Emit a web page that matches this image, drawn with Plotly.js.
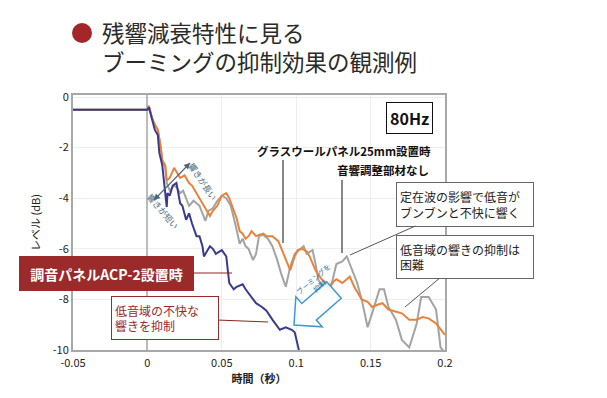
<!DOCTYPE html>
<html>
<head>
<meta charset="utf-8">
<script src="https://cdn.plot.ly/plotly-3.0.1.min.js"></script>
<style>html,body{margin:0;padding:0;background:#fff;}#chart{width:607px;height:398px;}</style>
</head>
<body>
<div id="chart"></div>
<script>
// ---- data (time in seconds, level in dB) ----
const timeGlass = [-0.05, 0, 0.001, 0.003, 0.005, 0.007, 0.009, 0.010, 0.012, 0.013, 0.015, 0.018, 0.020, 0.022, 0.025, 0.028, 0.030, 0.033, 0.035, 0.038, 0.042, 0.044, 0.047, 0.050, 0.053, 0.055, 0.057, 0.060, 0.062, 0.064, 0.066, 0.068, 0.070, 0.073, 0.075, 0.078, 0.080, 0.084, 0.088, 0.090, 0.093, 0.096, 0.099, 0.101, 0.104, 0.107, 0.109, 0.113, 0.117, 0.120, 0.122, 0.125, 0.127, 0.131, 0.134, 0.136, 0.139, 0.144, 0.148, 0.151, 0.155, 0.158, 0.162, 0.167, 0.171, 0.176, 0.181, 0.185, 0.189, 0.194, 0.198, 0.2];
const levelGlass = [-0.5, -0.5, -0.35, -0.8, -1.1, -1.3, -2.0, -2.5, -2.7, -3.3, -3.2, -2.8, -3.0, -3.2, -3.1, -3.4, -3.5, -3.8, -4.0, -4.3, -4.7, -4.5, -4.3, -3.9, -3.8, -4.0, -4.3, -4.8, -5.3, -5.4, -5.6, -5.5, -5.3, -5.5, -5.45, -5.4, -5.5, -5.5, -5.7, -6.0, -6.45, -6.85, -6.3, -6.05, -6.0, -6.1, -6.3, -6.85, -7.2, -7.35, -7.6, -7.3, -7.2, -7.35, -7.2, -7.1, -7.5, -8.0, -8.1, -8.3, -8.2, -8.15, -8.4, -8.5, -8.55, -8.8, -8.8, -8.7, -8.75, -8.95, -9.25, -9.4];

const timeNone = [-0.05, 0, 0.001, 0.003, 0.005, 0.007, 0.009, 0.010, 0.012, 0.013, 0.015, 0.018, 0.020, 0.022, 0.024, 0.026, 0.028, 0.031, 0.033, 0.035, 0.037, 0.039, 0.041, 0.044, 0.047, 0.050, 0.053, 0.056, 0.059, 0.062, 0.064, 0.066, 0.068, 0.071, 0.073, 0.075, 0.078, 0.081, 0.084, 0.087, 0.090, 0.093, 0.096, 0.099, 0.102, 0.105, 0.107, 0.111, 0.113, 0.115, 0.120, 0.124, 0.127, 0.131, 0.134, 0.136, 0.138, 0.141, 0.144, 0.148, 0.151, 0.156, 0.159, 0.162, 0.167, 0.171, 0.176, 0.181, 0.184, 0.189, 0.194, 0.197, 0.2];
const levelNone = [-0.5, -0.5, -0.35, -0.8, -1.1, -1.3, -2.0, -2.5, -2.8, -3.4, -3.7, -3.5, -3.6, -3.8, -3.7, -4.0, -4.3, -4.1, -4.2, -4.3, -4.6, -4.9, -4.5, -4.4, -4.1, -3.9, -4.0, -4.3, -5.0, -5.8, -5.6, -5.9, -6.0, -6.45, -6.2, -5.5, -5.45, -5.6, -5.9, -6.4, -7.0, -7.5, -6.7, -6.2, -6.05, -5.9, -6.2, -6.05, -6.6, -7.25, -7.6, -7.35, -6.6, -6.5, -6.3, -6.6, -6.95, -7.35, -8.0, -9.1, -8.55, -7.6, -7.6, -8.3, -8.8, -9.6, -9.9, -8.95, -7.9, -7.9, -8.4, -9.9, -10.1];

const timeACP = [-0.05, 0, 0.001, 0.003, 0.005, 0.007, 0.008, 0.010, 0.011, 0.013, 0.0135, 0.015, 0.017, 0.0195, 0.022, 0.0235, 0.026, 0.028, 0.030, 0.033, 0.035, 0.037, 0.038, 0.042, 0.044, 0.046, 0.050, 0.053, 0.055, 0.058, 0.060, 0.064, 0.066, 0.068, 0.071, 0.073, 0.077, 0.080, 0.084, 0.089, 0.093, 0.097, 0.099, 0.101, 0.103];
const levelACP = [-0.5, -0.5, -0.4, -0.9, -1.3, -1.5, -2.2, -2.7, -3.3, -4.35, -3.8, -3.9, -3.5, -3.4, -4.2, -4.3, -4.85, -4.6, -5.0, -5.5, -5.5, -5.9, -6.3, -5.9, -6.0, -6.2, -6.05, -6.3, -7.35, -7.6, -7.5, -7.4, -7.6, -7.75, -8.0, -8.15, -8.3, -8.45, -8.8, -9.2, -9.1, -9.2, -9.3, -9.9, -10.3];

const xTickVals = [-0.05, 0, 0.05, 0.1, 0.15, 0.2];
const xTickText = ['-0.05', '0', '0.05', '0.1', '0.15', '0.2'];
const yTickVals = [0, -2, -4, -6, -8, -10];
const yTickText = ['0', '-2', '-4', '-6', '-8', '-10'];

const titleLine1 = '残響減衰特性に見る';
const titleLine2 = 'ブーミングの抑制効果の観測例';
const xTitle = '時間（秒）';
const yTitle = 'レベル (dB)';
const freqLabel = '80Hz';
const labelGlass = 'グラスウールパネル25mm設置時';
const labelNone = '音響調整部材なし';
const labelACP = '調音パネルACP-2設置時';
const noteACP = '低音域の不快な<br>響きを抑制';
const noteStanding = '定在波の影響で低音が<br>ブンブンと不快に響く';
const noteHard = '低音域の響きの抑制は<br>困難';
const noteBooming = 'ブーミングを<br>抑制';
const noteLong = '響きが長い';
const noteShort = '響きが短い';

// ---- layout helpers (pixel -> paper) ----
const L = 73, R = 445, T = 95, B = 350;
const PX = px => (px - L) / (R - L);
const PY = py => (B - py) / (B - T);
const FONT = '"Noto Sans CJK JP", "Noto Sans", sans-serif';
const pathFrom = pts => 'M' + pts.map(p => PX(p[0]).toFixed(4) + ',' + PY(p[1]).toFixed(4)).join(' L') + ' Z';

const traces = [
  {x: timeNone, y: levelNone, type: 'scatter', mode: 'lines', line: {color: '#a3a3a3', width: 2}, hoverinfo: 'skip'},
  {x: timeGlass, y: levelGlass, type: 'scatter', mode: 'lines', line: {color: '#e9833c', width: 2}, hoverinfo: 'skip'},
  {x: timeACP, y: levelACP, type: 'scatter', mode: 'lines', line: {color: '#3c3a8c', width: 2}, hoverinfo: 'skip'}
];

// blue outlined arrow (booming suppression) in pixel space
function blockArrow() {
  const tip = [294, 325], tail = [334, 290];
  const dx = tip[0] - tail[0], dy = tip[1] - tail[1];
  const len = Math.hypot(dx, dy);
  const d = [dx / len, dy / len], n = [-d[1], d[0]];
  const hl = 20, hw = 20, bw = 11;
  const b = [tip[0] - hl * d[0], tip[1] - hl * d[1]];
  return pathFrom([
    tip,
    [b[0] + hw * n[0], b[1] + hw * n[1]],
    [b[0] + bw * n[0], b[1] + bw * n[1]],
    [tail[0] + bw * n[0], tail[1] + bw * n[1]],
    [tail[0] - bw * n[0], tail[1] - bw * n[1]],
    [b[0] - bw * n[0], b[1] - bw * n[1]],
    [b[0] - hw * n[0], b[1] - hw * n[1]]
  ]);
}
// small arrow head at point p, pointing away from q
function headAt(p, q) {
  const dx = p[0] - q[0], dy = p[1] - q[1];
  const len = Math.hypot(dx, dy);
  const d = [dx / len, dy / len], n = [-d[1], d[0]];
  const hl = 6, hw = 3.2;
  const b = [p[0] - hl * d[0], p[1] - hl * d[1]];
  return pathFrom([p, [b[0] + hw * n[0], b[1] + hw * n[1]], [b[0] - hw * n[0], b[1] - hw * n[1]]]);
}
const dblA = [190, 163], dblB = [154, 200];

const shapes = [
  {type: 'circle', xref: 'paper', yref: 'paper', x0: PX(72), x1: PX(92), y0: PY(43), y1: PY(23), fillcolor: '#a3262a', line: {width: 0}},
  {type: 'line', xref: 'paper', yref: 'paper', x0: PX(283), x1: PX(283), y0: PY(160), y1: PY(243), line: {color: '#111', width: 1}},
  {type: 'line', xref: 'paper', yref: 'paper', x0: PX(342), x1: PX(342), y0: PY(180), y1: PY(253), line: {color: '#111', width: 1}},
  {type: 'path', xref: 'paper', yref: 'paper', path: blockArrow(), fillcolor: 'rgba(255,255,255,0.9)', line: {color: '#3d9ad6', width: 1.5}},
  {type: 'line', xref: 'paper', yref: 'paper', x0: PX(dblA[0]), y0: PY(dblA[1]), x1: PX(dblB[0]), y1: PY(dblB[1]), line: {color: '#4a6878', width: 1.1}},
  {type: 'path', xref: 'paper', yref: 'paper', path: headAt(dblA, dblB), fillcolor: '#4a6878', line: {width: 0}},
  {type: 'path', xref: 'paper', yref: 'paper', path: headAt(dblB, dblA), fillcolor: '#4a6878', line: {width: 0}}
];

const annotations = [
  {xref: 'paper', yref: 'paper', x: PX(100), y: PY(46), xanchor: 'left', yanchor: 'middle', showarrow: false, align: 'left', text: titleLine1 + '<br>' + titleLine2, font: {family: FONT, size: 22.5, color: '#2a2a2a'}},
  {xref: 'paper', yref: 'paper', x: PX(409), y: PY(118), xanchor: 'center', yanchor: 'middle', showarrow: false, text: '<b>' + freqLabel + '</b>', font: {family: FONT, size: 16, color: '#111'}, bordercolor: '#111', borderwidth: 1, borderpad: 3, bgcolor: '#fff'},
  {xref: 'paper', yref: 'paper', x: PX(344), y: PY(151), xanchor: 'center', yanchor: 'middle', showarrow: false, text: '<b>' + labelGlass + '</b>', font: {family: FONT, size: 11.5, color: '#111'}},
  {xref: 'paper', yref: 'paper', x: PX(383), y: PY(170), xanchor: 'center', yanchor: 'middle', showarrow: false, text: '<b>' + labelNone + '</b>', font: {family: FONT, size: 11.5, color: '#111'}},
  // callout: standing waves
  {xref: 'paper', yref: 'paper', x: PX(350), y: PY(255), ax: 115, ay: -51, showarrow: true, arrowhead: 0, arrowwidth: 1, arrowcolor: '#555',
   text: noteStanding, align: 'left', width: 130, height: 37, borderpad: 3, bordercolor: '#666', borderwidth: 1, bgcolor: '#fff', font: {family: FONT, size: 12, color: '#222'}},
  // callout: difficult
  {xref: 'paper', yref: 'paper', x: PX(405), y: PY(307), ax: 60, ay: -50, showarrow: true, arrowhead: 0, arrowwidth: 1, arrowcolor: '#555',
   text: noteHard, align: 'left', width: 130, height: 36, borderpad: 3, bordercolor: '#666', borderwidth: 1, bgcolor: '#fff', font: {family: FONT, size: 12, color: '#222'}},
  // red filled label
  {xref: 'paper', yref: 'paper', x: PX(232), y: PY(273), ax: -126, ay: 0, showarrow: true, arrowhead: 0, arrowwidth: 1, arrowcolor: '#8e2222',
   text: '<b>' + labelACP + '</b>', align: 'center', width: 167, height: 27, borderpad: 3, bordercolor: '#9b2a2a', borderwidth: 1, bgcolor: '#9b2a2a', font: {family: FONT, size: 14, color: '#fff'}},
  // red outlined note
  {xref: 'paper', yref: 'paper', x: PX(268), y: PY(322), ax: -103, ay: -4, showarrow: true, arrowhead: 0, arrowwidth: 1, arrowcolor: '#8e2222',
   text: noteACP, align: 'left', width: 100, height: 36, borderpad: 3, bordercolor: '#9b2a2a', borderwidth: 1, bgcolor: '#fff', font: {family: FONT, size: 12, color: '#9b2a2a'}},
  // booming arrow text
  {xref: 'paper', yref: 'paper', x: PX(316), y: PY(306), showarrow: false, text: noteBooming, textangle: -41, font: {family: FONT, size: 7, color: '#2a6fa8'}},
  // long / short labels
  {xref: 'paper', yref: 'paper', x: PX(203), y: PY(157), showarrow: false, text: noteLong, textangle: 56, font: {family: FONT, size: 8.5, color: '#4a6878'}},
  {xref: 'paper', yref: 'paper', x: PX(142), y: PY(211), showarrow: false, text: noteShort, textangle: 50, font: {family: FONT, size: 8.5, color: '#4a6878'}}
];

const layout = {
  width: 607, height: 398,
  margin: {l: L, r: 607 - R, t: T, b: 398 - B, pad: 0},
  paper_bgcolor: '#fff', plot_bgcolor: '#fff',
  showlegend: false,
  font: {family: FONT, size: 11, color: '#222'},
  xaxis: {
    range: [-0.05, 0.2], tickvals: xTickVals, ticktext: xTickText,
    showgrid: true, gridcolor: '#eeeeee', gridwidth: 1,
    zeroline: true, zerolinecolor: '#bbbbbb', zerolinewidth: 2,
    showline: true, mirror: true, linecolor: '#a8a8a8', linewidth: 2,
    ticks: '', tickfont: {family: FONT, size: 11, color: '#222'}, ticklabelstandoff: 2,
    title: {text: '<b>' + xTitle + '</b>', font: {family: FONT, size: 11, color: '#222'}, standoff: 6}
  },
  yaxis: {
    range: [-10, 0.08], tickvals: yTickVals, ticktext: yTickText,
    showgrid: true, gridcolor: '#eeeeee', gridwidth: 1,
    zeroline: false,
    showline: true, mirror: true, linecolor: '#a8a8a8', linewidth: 2,
    ticks: '', tickfont: {family: FONT, size: 11, color: '#222'},
    title: {text: yTitle, font: {family: FONT, size: 11, color: '#222'}, standoff: 10}
  },
  shapes: shapes,
  annotations: annotations
};

Plotly.newPlot('chart', traces, layout, {staticPlot: true, displayModeBar: false});
</script>
</body>
</html>
